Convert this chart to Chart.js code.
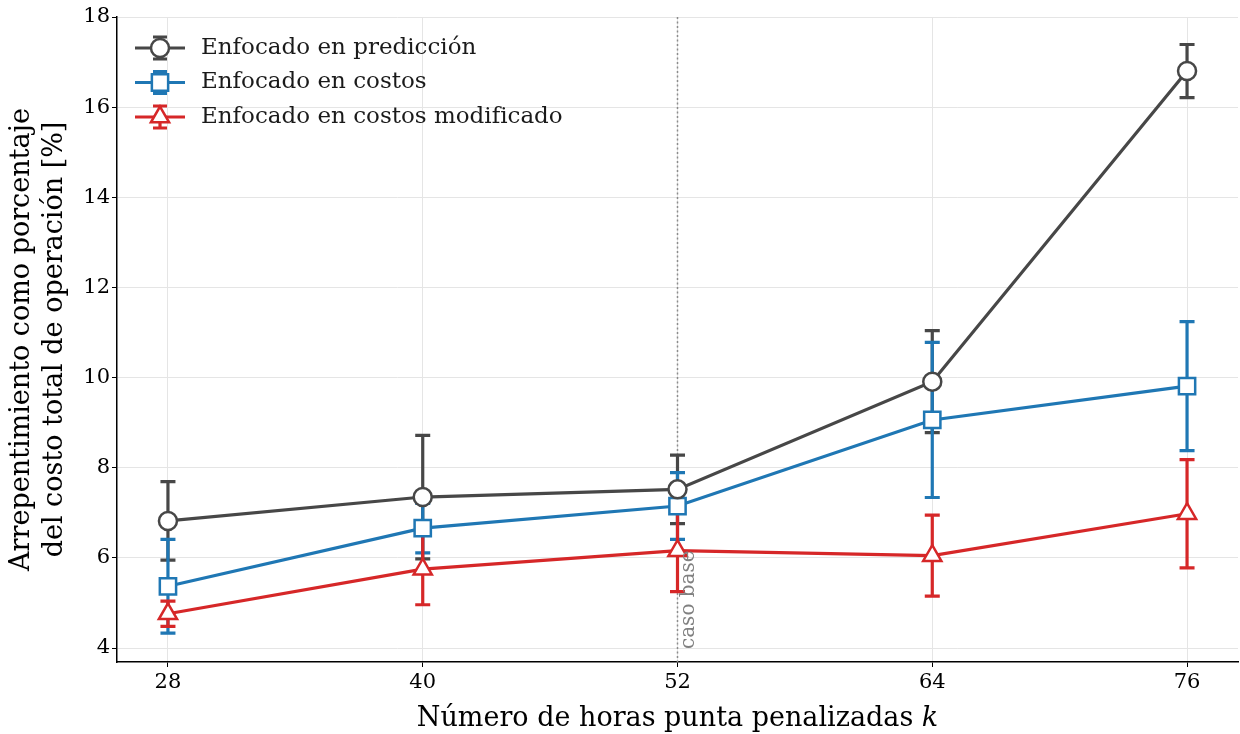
<!DOCTYPE html>
<html lang="es">
<head>
<meta charset="UTF-8">
<title>Arrepentimiento vs horas punta</title>
<script src="https://cdn.jsdelivr.net/npm/chart.js"></script>
<style>
  html, body { margin: 0; padding: 0; background: #fff; }
  #wrap { width: 1240px; height: 734px; }
</style>
</head>
<body>
<div id="wrap"><canvas id="grafico" width="1240" height="734"></canvas></div>
<script>
// datos
const horas = [28, 40, 52, 64, 76];
const prediccion = [6.82, 7.35, 7.52, 9.91, 16.80];
const predErr    = [0.87, 1.37, 0.76, 1.13, 0.59];
const costos     = [5.37, 6.66, 7.15, 9.06, 9.81];
const costosErr  = [1.04, 0.55, 0.74, 1.72, 1.43];
const modificado = [4.76, 5.75, 6.16, 6.05, 6.98];
const modErr     = [0.28, 0.79, 0.91, 0.90, 1.20];
const ticksY = [4, 6, 8, 10, 12, 14, 16, 18];
const casoBase = 52;

const SERIF = "'DejaVu Serif', serif";
Chart.defaults.font.family = SERIF;
Chart.defaults.color = '#000';

const series = [
  { label: 'Enfocado en predicción', y: prediccion, err: predErr, color: '#474747', style: 'circle', r: 9 },
  { label: 'Enfocado en costos', y: costos, err: costosErr, color: '#1f77b4', style: 'rect', r: 11.5 },
  { label: 'Enfocado en costos modificado', y: modificado, err: modErr, color: '#d62728', style: 'triangle', r: 10.5 }
];

function puntos(arr) {
  return horas.map((h, i) => ({ x: h, y: arr[i] }));
}

// barras de error, línea de caso base y leyenda
const extras = {
  id: 'extras',
  beforeDatasetsDraw(chart) {
    const ctx = chart.ctx;
    const xs = chart.scales.x, ys = chart.scales.y;
    const area = chart.chartArea;
    ctx.save();
    // línea punteada caso base
    const xb = Math.round(xs.getPixelForValue(casoBase)) + 0.5;
    ctx.strokeStyle = '#8c8c8c';
    ctx.lineWidth = 1.5;
    ctx.setLineDash([2, 2.5]);
    ctx.beginPath();
    ctx.moveTo(xb, area.top);
    ctx.lineTo(xb, area.bottom);
    ctx.stroke();
    ctx.setLineDash([]);
    // barras de error
    series.forEach(s => {
      ctx.strokeStyle = s.color;
      ctx.lineWidth = 3.2;
      horas.forEach((h, i) => {
        const x = xs.getPixelForValue(h);
        const yt = ys.getPixelForValue(s.y[i] + s.err[i]);
        const yb = ys.getPixelForValue(s.y[i] - s.err[i]);
        ctx.beginPath();
        ctx.moveTo(x, yt); ctx.lineTo(x, yb);
        ctx.moveTo(x - 7.5, yt); ctx.lineTo(x + 7.5, yt);
        ctx.moveTo(x - 7.5, yb); ctx.lineTo(x + 7.5, yb);
        ctx.stroke();
      });
    });
    ctx.restore();
  },
  afterDraw(chart) {
    const ctx = chart.ctx;
    const xs = chart.scales.x;
    const area = chart.chartArea;
    ctx.save();
    // texto caso base
    const xb = xs.getPixelForValue(casoBase);
    ctx.translate(xb + 11, area.bottom - 13);
    ctx.rotate(-Math.PI / 2);
    ctx.fillStyle = '#808080';
    ctx.font = '20px ' + SERIF;
    ctx.textAlign = 'left';
    ctx.textBaseline = 'middle';
    ctx.fillText('caso base', 0, 0);
    ctx.setTransform(1, 0, 0, 1, 0, 0);

    // leyenda
    series.forEach((s, i) => {
      const y = 48 + i * 34.5;
      ctx.strokeStyle = s.color;
      ctx.lineWidth = 3.2;
      ctx.beginPath();
      ctx.moveTo(135, y); ctx.lineTo(185, y);
      ctx.moveTo(160, y - 11); ctx.lineTo(160, y + 11);
      ctx.moveTo(153, y - 11); ctx.lineTo(167, y - 11);
      ctx.moveTo(153, y + 11); ctx.lineTo(167, y + 11);
      ctx.stroke();
      ctx.fillStyle = '#fff';
      ctx.lineWidth = 2.5;
      Chart.helpers.drawPoint(ctx, { pointStyle: s.style, radius: s.r, borderWidth: 2.5 }, 160, y);
      ctx.fillStyle = '#1a1a1a';
      ctx.font = '23px ' + SERIF;
      ctx.textAlign = 'left';
      ctx.textBaseline = 'middle';
      ctx.fillText(s.label, 201, y);
    });

    // título eje x con k en cursiva
    ctx.fillStyle = '#000';
    ctx.textBaseline = 'alphabetic';
    ctx.font = '27px ' + SERIF;
    const t1 = 'Número de horas punta penalizadas ';
    const w1 = ctx.measureText(t1).width;
    ctx.font = 'italic 27px ' + SERIF;
    const w2 = ctx.measureText('k').width;
    const cx = (area.left + area.right) / 2;
    const x0 = cx - (w1 + w2) / 2;
    ctx.font = '27px ' + SERIF;
    ctx.textAlign = 'left';
    ctx.fillText(t1, x0, 726);
    ctx.font = 'italic 27px ' + SERIF;
    ctx.fillText('k', x0 + w1, 726);

    // título eje y (dos líneas)
    ctx.translate(0, (area.top + area.bottom) / 2);
    ctx.rotate(-Math.PI / 2);
    ctx.font = '27px ' + SERIF;
    ctx.textAlign = 'center';
    ctx.textBaseline = 'middle';
    ctx.fillText('Arrepentimiento como porcentaje', 0, 22);
    ctx.fillText('del costo total de operación [%]', 0, 55);
    ctx.restore();
  }
};

new Chart(document.getElementById('grafico'), {
  type: 'line',
  data: {
    datasets: series.map(s => ({
      label: s.label,
      data: puntos(s.y),
      borderColor: s.color,
      backgroundColor: '#fff',
      borderWidth: 3.2,
      pointStyle: s.style,
      pointRadius: s.r,
      pointHoverRadius: s.r,
      pointBorderWidth: 2.5,
      pointBackgroundColor: '#fff',
      pointBorderColor: s.color,
      tension: 0
    }))
  },
  options: {
    responsive: false,
    devicePixelRatio: 1,
    animation: false,
    layout: { autoPadding: false, padding: { top: 17, right: 2, left: 0, bottom: 0 } },
    plugins: {
      legend: { display: false },
      tooltip: { enabled: false }
    },
    scales: {
      x: {
        type: 'linear',
        min: 25.6,
        max: 78.4,
        afterBuildTicks: scale => { scale.ticks = horas.map(v => ({ value: v })); },
        afterFit: scale => { scale.height = 72; scale.paddingLeft = 0; scale.paddingRight = 0; },
        ticks: { font: { size: 21 }, color: '#000', padding: 3 },
        grid: { color: '#e5e5e5', lineWidth: 1, tickColor: '#000', tickLength: 5 },
        border: { color: '#000', width: 1.5 }
      },
      y: {
        min: 3.69,
        max: 18,
        afterBuildTicks: scale => { scale.ticks = ticksY.map(v => ({ value: v })); },
        afterFit: scale => { scale.width = 117; scale.paddingTop = 0; scale.paddingBottom = 0; },
        ticks: { font: { size: 21 }, color: '#000', padding: 2 },
        grid: { color: '#e5e5e5', lineWidth: 1, tickColor: '#000', tickLength: 5 },
        border: { color: '#000', width: 1.5 }
      }
    }
  },
  plugins: [extras]
});
</script>
</body>
</html>
